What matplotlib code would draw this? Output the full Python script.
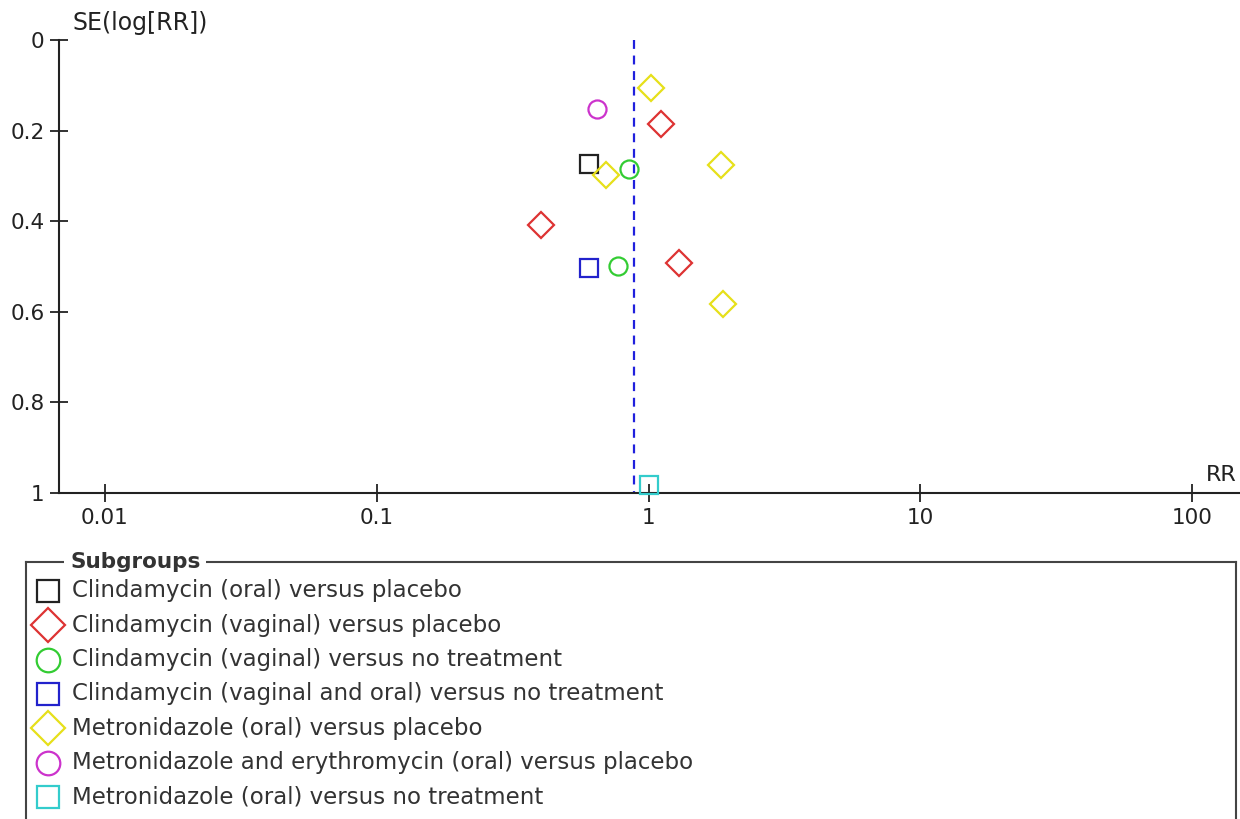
import matplotlib
matplotlib.use("Agg")
import matplotlib.pyplot as plt

# subgroups (legend order)
groups = [
    "Clindamycin (oral) versus placebo",
    "Clindamycin (vaginal) versus placebo",
    "Clindamycin (vaginal) versus no treatment",
    "Clindamycin (vaginal and oral) versus no treatment",
    "Metronidazole (oral) versus placebo",
    "Metronidazole and erythromycin (oral) versus placebo",
    "Metronidazole (oral) versus no treatment",
]
colors = ["#222222", "#dd3333", "#33cc33", "#2222cc", "#e6e01a", "#cc33cc", "#33cccc"]
markers = ["s", "D", "o", "s", "D", "o", "s"]

# studies: subgroup index, RR, SE(log RR)
study_group = [0, 1, 1, 1, 2, 2, 3, 4, 4, 4, 4, 5, 6]
study_rr = [0.606, 1.115, 0.403, 1.291, 0.848, 0.772, 0.606, 1.019, 1.844, 0.698, 1.875, 0.645, 1.004]
study_se = [0.274, 0.185, 0.408, 0.493, 0.285, 0.498, 0.504, 0.107, 0.277, 0.298, 0.583, 0.153, 0.982]

pooled_rr = 0.884

x_ticks = [0.01, 0.1, 1, 10, 100]
x_ticklabels = ["0.01", "0.1", "1", "10", "100"]
y_ticks = [0, 0.2, 0.4, 0.6, 0.8, 1]
y_ticklabels = ["0", "0.2", "0.4", "0.6", "0.8", "1"]

W, H = 1240, 819
plt.rcParams["font.family"] = "DejaVu Sans"
fig = plt.figure(figsize=(W / 100, H / 100), dpi=100)

ax = fig.add_axes([59 / W, 1 - 493 / H, (W - 59) / W, 453 / H])
ax.set_xscale("log")
ax.set_xlim(0.00678, 150)
ax.set_ylim(1, 0)
for side in ("top", "right"):
    ax.spines[side].set_visible(False)
for side in ("left", "bottom"):
    ax.spines[side].set_linewidth(1.5)
    ax.spines[side].set_color("#222222")

ax.set_xticks(x_ticks)
ax.set_xticklabels(x_ticklabels)
ax.xaxis.set_minor_locator(matplotlib.ticker.NullLocator())
ax.set_yticks(y_ticks)
ax.set_yticklabels(y_ticklabels)
ax.tick_params(direction="inout", length=13, width=1.3, color="#222222",
               labelsize=15.5, labelcolor="#222222", pad=4)

ax.vlines(pooled_rr, 0, 1, colors="#2020dd", linestyles=(0, (4, 3)), lw=1.6, zorder=2)

for g, r, s in zip(study_group, study_rr, study_se):
    ax.plot(r, s, marker=markers[g], ms=13, mfc="none", mec=colors[g], mew=1.6,
            ls="none", clip_on=False, zorder=3)

fig.text(1237 / W, 1 - 481 / H, "RR", ha="right", va="baseline", fontsize=16, color="#222222")
fig.text(72 / W, 1 - 30 / H, "SE(log[RR])", ha="left", va="baseline", fontsize=17, color="#222222")

# legend drawn as a fieldset-style box
lg = fig.add_axes([26 / W, -0.05, (1236 - 26) / W, 0.05 + 1 - 562 / H])
lg.set_xlim(0, 1236 - 26)
lg.set_ylim(819 + 0.05 * H, 562)
lg.set_xticks([])
lg.set_yticks([])
lg.spines["bottom"].set_visible(False)
for side in ("top", "left", "right"):
    lg.spines[side].set_linewidth(1.5)
    lg.spines[side].set_color("#444444")
lg.text(70 - 26, 562, "Subgroups", ha="left", va="center", fontsize=15.5, fontweight="bold",
        color="#333333", bbox=dict(facecolor="white", edgecolor="none", pad=4))
row0, step = 591, 34.3
for i, (name, c, m) in enumerate(zip(groups, colors, markers)):
    y = row0 + i * step
    ms = 16 if m == "s" else 17
    lg.plot(48 - 26, y, marker=m, ms=ms, mfc="none", mec=c, mew=1.6, ls="none", clip_on=False)
    lg.text(72 - 26, y, name, ha="left", va="center", fontsize=16.5, color="#333333")

fig.savefig("out.png", dpi=100)
